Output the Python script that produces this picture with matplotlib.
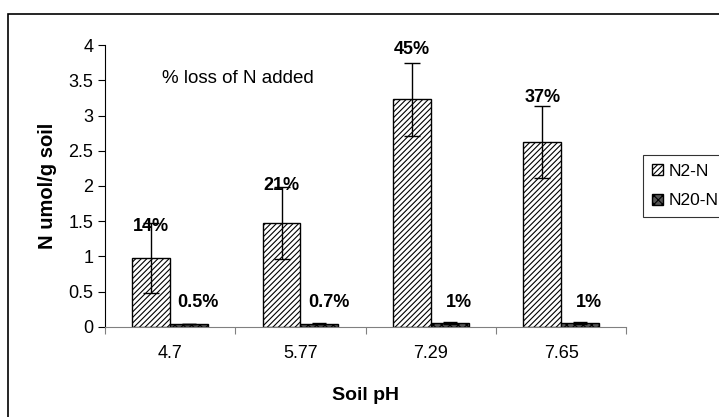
import numpy as np
import matplotlib.pyplot as plt
import matplotlib as mpl
from matplotlib.patches import Rectangle

# =========================
# STYLE
# =========================
mpl.rcParams.update({
    'font.family': ['Liberation Sans', 'DejaVu Sans'],
    'font.size': 13,
    'hatch.linewidth': 0.8,
})

# =========================
# DONNEES
# =========================
soil_ph = ['4.7', '5.77', '7.29', '7.65']
n2_n = [0.98, 1.47, 3.23, 2.63]
n2_n_err = [0.50, 0.51, 0.52, 0.51]
n2o_n = [0.04, 0.045, 0.06, 0.06]
n2o_n_err = [0.005, 0.01, 0.015, 0.015]
n2_pct = ['14%', '21%', '45%', '37%']
n2o_pct = ['0.5%', '0.7%', '1%', '1%']

# décalage vertical des étiquettes (par rapport au haut de la barre d'erreur)
pct_dy = [-0.06, 0.02, 0.19, 0.12]

# =========================
# FIGURE
# =========================
fig = plt.figure(figsize=(7.19, 4.17), dpi=100)
ax = fig.add_axes([0.146, 0.216, 0.725, 0.676])

x = np.arange(len(soil_ph))
w = 0.29

ax.bar(x - w / 2, n2_n, w, color='white', edgecolor='black', hatch='//////',
       linewidth=1.0, label='N2-N', zorder=2)
ax.errorbar(x - w / 2, n2_n, yerr=n2_n_err, fmt='none', ecolor='black',
            elinewidth=1.0, capsize=6, capthick=1.0, zorder=3)

ax.bar(x + w / 2, n2o_n, w, color='#555555', edgecolor='black', hatch='xxxx',
       linewidth=1.0, label='N20-N', zorder=2)
ax.errorbar(x + w / 2, n2o_n, yerr=n2o_n_err, fmt='none', ecolor='black',
            elinewidth=1.0, capsize=5, capthick=1.0, zorder=3)

# etiquettes en pourcentage
for i in range(len(soil_ph)):
    top = n2_n[i] + n2_n_err[i]
    ax.text(x[i] - w / 2, top + pct_dy[i], n2_pct[i], ha='center', va='center',
            fontsize=13, fontweight='bold', zorder=4)
    ax.text(x[i] + w / 2 + 0.07, 0.35, n2o_pct[i], ha='center', va='center',
            fontsize=13, fontweight='bold', zorder=4)

ax.text(-0.06, 3.52, '% loss of N added', ha='left', va='center', fontsize=13.5)

# axes
ax.set_xlim(-0.5, 3.5)
ax.set_ylim(0, 4)
ax.set_yticks(np.arange(0, 4.01, 0.5))
ax.set_yticklabels(['0', '0.5', '1', '1.5', '2', '2.5', '3', '3.5', '4'])
ax.set_xticks(np.arange(-0.5, 3.6, 1.0))
ax.set_xticklabels([])
ax.set_xticks(x, minor=True)
ax.set_xticklabels(soil_ph, minor=True)
ax.tick_params(axis='x', which='major', length=5, direction='out', color='#808080')
ax.tick_params(axis='x', which='minor', length=0, pad=13, labelsize=13)
ax.tick_params(axis='y', length=5, direction='out', labelsize=13)

ax.spines['top'].set_visible(False)
ax.spines['right'].set_visible(False)
ax.spines['bottom'].set_color('#808080')

ax.set_xlabel('Soil pH', fontweight='bold', fontsize=14, labelpad=18)
ax.set_ylabel('N umol/g soil', fontweight='bold', fontsize=14.5, labelpad=8)

leg = ax.legend(loc='upper left', bbox_to_anchor=(1.033, 0.61), frameon=True,
                fancybox=False, edgecolor='black', fontsize=12.5,
                handlelength=0.65, handleheight=0.65, handletextpad=0.3,
                borderpad=0.5, labelspacing=0.85, borderaxespad=0)
leg.get_frame().set_linewidth(0.8)

# cadre exterieur
fig.patches.append(Rectangle((8 / 719, -0.05), 1.05, 1 - 14 / 417 + 0.05,
                             transform=fig.transFigure, fill=False,
                             edgecolor='black', linewidth=1.2))

fig.savefig('out.png', dpi=100)
